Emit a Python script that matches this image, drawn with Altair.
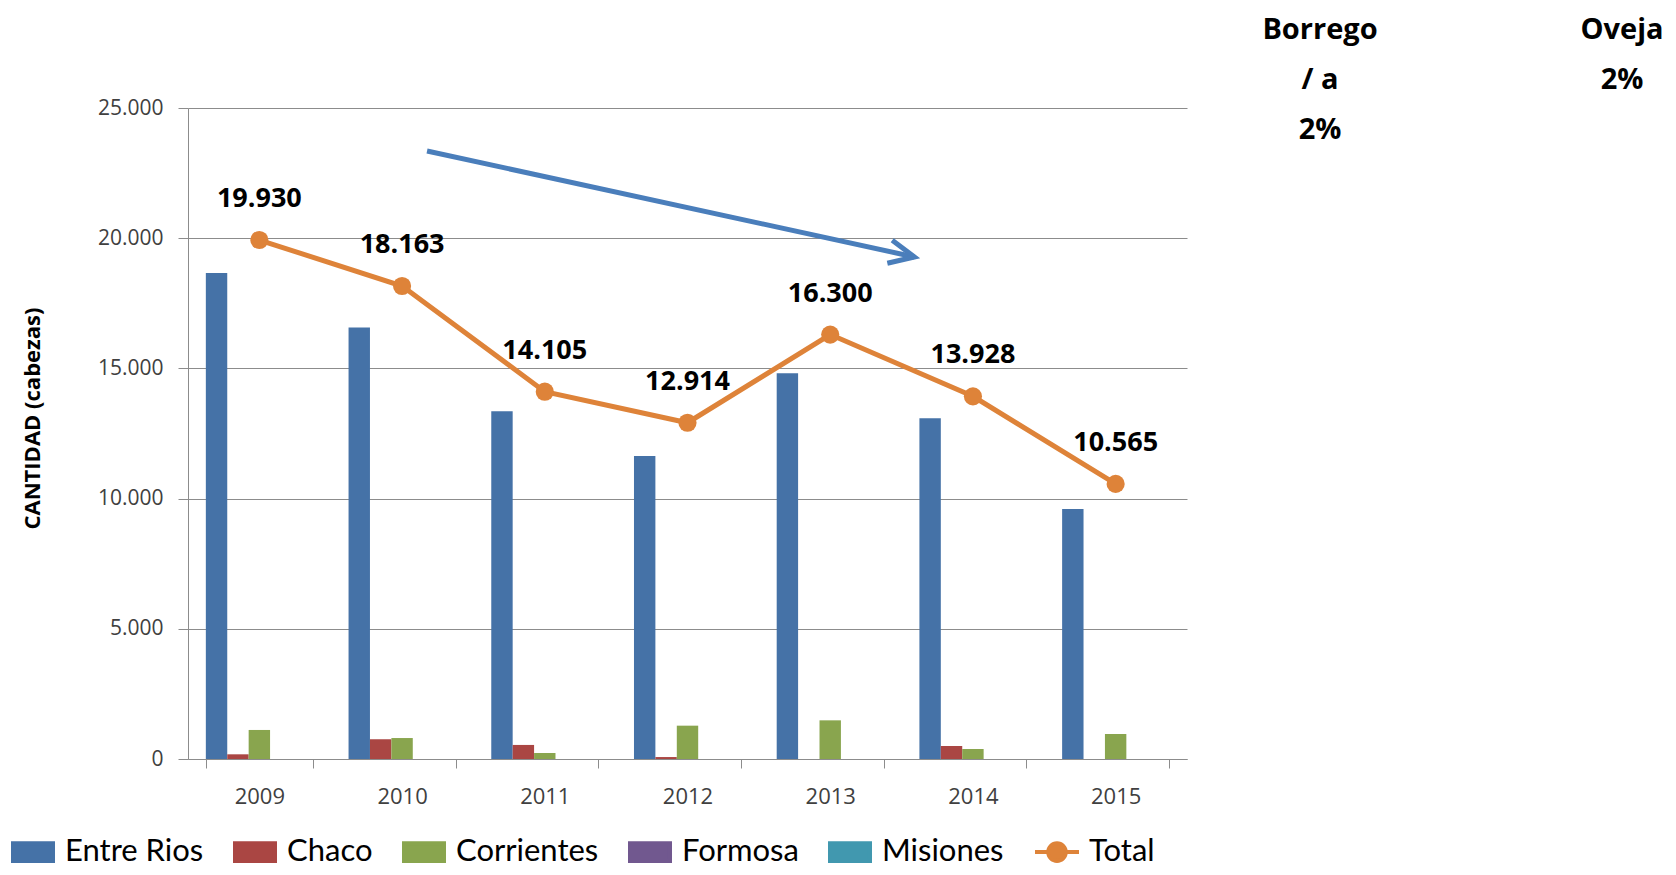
import altair as alt
import pandas as pd

# ---------------- data ----------------
years = ["2009", "2010", "2011", "2012", "2013", "2014", "2015"]
series_names = ["Entre Rios", "Chaco", "Corrientes", "Formosa", "Misiones"]
entre_rios = [18660, 16570, 13355, 11635, 14810, 13090, 9605]
chaco = [180, 755, 540, 75, 0, 500, 0]
corrientes = [1115, 805, 230, 1280, 1485, 385, 960]
formosa = [0, 0, 0, 0, 0, 0, 0]
misiones = [0, 0, 0, 0, 0, 0, 0]
total = [19930, 18163, 14105, 12914, 16300, 13928, 10565]
legend_names = series_names + ["Total"]
y_ticks = [0, 5000, 10000, 15000, 20000, 25000]

# trend arrow, in category units (2009 = 0) and in cabezas
arrow_x = [1.175, 4.59]
arrow_y = [23350, 19280]

borrego_text = "Borrego\n/ a\n2%"
oveja_text = "Oveja\n2%"

# ---------------- styles ----------------
bar_colors = ["#4572A7", "#AA4643", "#89A54E", "#71588F", "#4198AF"]
total_color = "#DE8339"
arrow_color = "#4A7EBB"
grid_color = "#8C8C8C"
rect_path = "M-0.909,-0.40H0.909V0.40H-0.909Z"
line_circle_path = "M-1,0H1M-0.4,0A0.4,0.4,0,1,1,0.4,0A0.4,0.4,0,1,1,-0.4,0Z"
legend_shapes = [rect_path] * 5 + [line_circle_path]
legend_colors = bar_colors + [total_color]

rows = []
for name, vals in zip(series_names, [entre_rios, chaco, corrientes, formosa, misiones]):
    for yr, v in zip(years, vals):
        rows.append({"year": yr, "series": name, "value": v})
bars_df = pd.DataFrame(rows)
total_df = pd.DataFrame({"year": years, "value": total})

x_scale = alt.Scale(domain=years, paddingInner=0.25, paddingOuter=0.125)
x_axis = alt.Axis(
    title=None, labelAngle=0, tickBand="extent", tickSize=9, labelPadding=18,
    labelFont="Open Sans", labelFontSize=22, labelColor="#404040",
    domainColor=grid_color, tickColor=grid_color, grid=False,
)
y_scale = alt.Scale(domain=[0, 25000], nice=False)
y_axis = alt.Axis(
    title="CANTIDAD (cabezas)", values=y_ticks,
    labelExpr="replace(format(datum.value, ','), ',', '.')",
    labelFont="Open Sans", labelFontSize=21, labelColor="#404040",
    labelPadding=15, tickSize=10, tickColor=grid_color,
    domainColor=grid_color, grid=True, gridColor=grid_color, gridWidth=1,
    titleFont="Open Sans", titleFontSize=22, titleFontWeight="bold",
    titleColor="black", titleAngle=270, titleX=-156, titleY=310,
    titleAlign="center", titleBaseline="middle",
)

x_enc = alt.X("year:N", sort=years, scale=x_scale, axis=x_axis)
x_mid = alt.X("year:N", sort=years, scale=x_scale, axis=x_axis, bandPosition=0.5)
y_enc = alt.Y("value:Q", scale=y_scale, axis=y_axis)

bars = alt.Chart(bars_df).mark_bar().encode(
    x=x_enc,
    xOffset=alt.XOffset("series:N", sort=series_names, scale=alt.Scale(domain=series_names)),
    y=y_enc,
    color=alt.Color("series:N", scale=alt.Scale(domain=series_names, range=bar_colors), legend=None),
)

line = alt.Chart(total_df).mark_line(color=total_color, strokeWidth=5).encode(x=x_mid, y=y_enc)
points = alt.Chart(total_df).mark_point(filled=True, size=330, color=total_color, opacity=1).encode(x=x_mid, y=y_enc)
labels = alt.Chart(total_df).transform_calculate(
    label="replace(format(datum.value, ','), ',', '.')"
).mark_text(font="Open Sans", fontSize=27, fontWeight="bold", color="black", dy=-41, baseline="middle").encode(
    x=x_mid, y=y_enc, text="label:N"
)

main = alt.layer(bars, line, points, labels)

# ---------------- overlay: arrow, side texts, legend ----------------
xq = alt.Scale(domain=[-0.5, 6.5], nice=False, zero=False)
yq = alt.Scale(domain=[0, 25000], nice=False)
arrow_df = pd.DataFrame({"x": [arrow_x[0]], "x2": [arrow_x[1]], "y": [arrow_y[0]], "y2": [arrow_y[1]]})

arrow_line = alt.Chart(arrow_df).mark_rule(color=arrow_color, strokeWidth=5).encode(
    x=alt.X("x:Q", scale=xq, axis=None), x2="x2:Q",
    y=alt.Y("y:Q", scale=yq, axis=None), y2="y2:Q",
)
arrow_head = alt.Chart(arrow_df).mark_point(
    shape="M-0.9,-0.42L0,0L-0.9,0.42", filled=False, strokeWidth=5, size=3136,
    angle=12, color=arrow_color, opacity=1, strokeJoin="miter",
).encode(x=alt.X("x2:Q", scale=xq, axis=None), y=alt.Y("y2:Q", scale=yq, axis=None))

text_style = dict(font="Open Sans", fontSize=29, fontWeight="bold", color="black",
                  align="center", baseline="top", lineBreak="\n", lineHeight=50)
borrego = alt.Chart(pd.DataFrame({"t": [borrego_text]})).mark_text(**text_style).encode(
    text="t:N", x=alt.value(1132), y=alt.value(-92))
oveja = alt.Chart(pd.DataFrame({"t": [oveja_text]})).mark_text(**text_style).encode(
    text="t:N", x=alt.value(1434), y=alt.value(-92))

leg = alt.Legend(
    title=None, orient="none", legendX=-179, legendY=720, direction="horizontal",
    columns=6, symbolSize=1936, symbolStrokeWidth=4, symbolOpacity=1,
    labelFont="Lato", labelFontSize=31, labelColor="black",
    labelOffset=8, columnPadding=23, labelLimit=0,
)
legend_df = pd.DataFrame({"series": legend_names})
legend_layer = alt.Chart(legend_df).mark_point(filled=True, opacity=0).encode(
    x=alt.value(0), y=alt.value(0),
    fill=alt.Fill("series:N", sort=legend_names, scale=alt.Scale(domain=legend_names, range=legend_colors), legend=leg),
    stroke=alt.Stroke("series:N", sort=legend_names, scale=alt.Scale(domain=legend_names, range=legend_colors), legend=leg),
    shape=alt.Shape("series:N", sort=legend_names, scale=alt.Scale(domain=legend_names, range=legend_shapes), legend=leg),
)

overlay = alt.layer(arrow_line, arrow_head, borrego, oveja, legend_layer)

chart = alt.layer(main, overlay).resolve_scale(x="independent", y="independent").properties(
    width=999, height=651, autosize="none",
    padding={"left": 180, "top": 100, "right": 480, "bottom": 108},
    background="white",
).configure_view(stroke=None)

chart.save("out.html", embed_options={"renderer": "svg", "actions": False})
